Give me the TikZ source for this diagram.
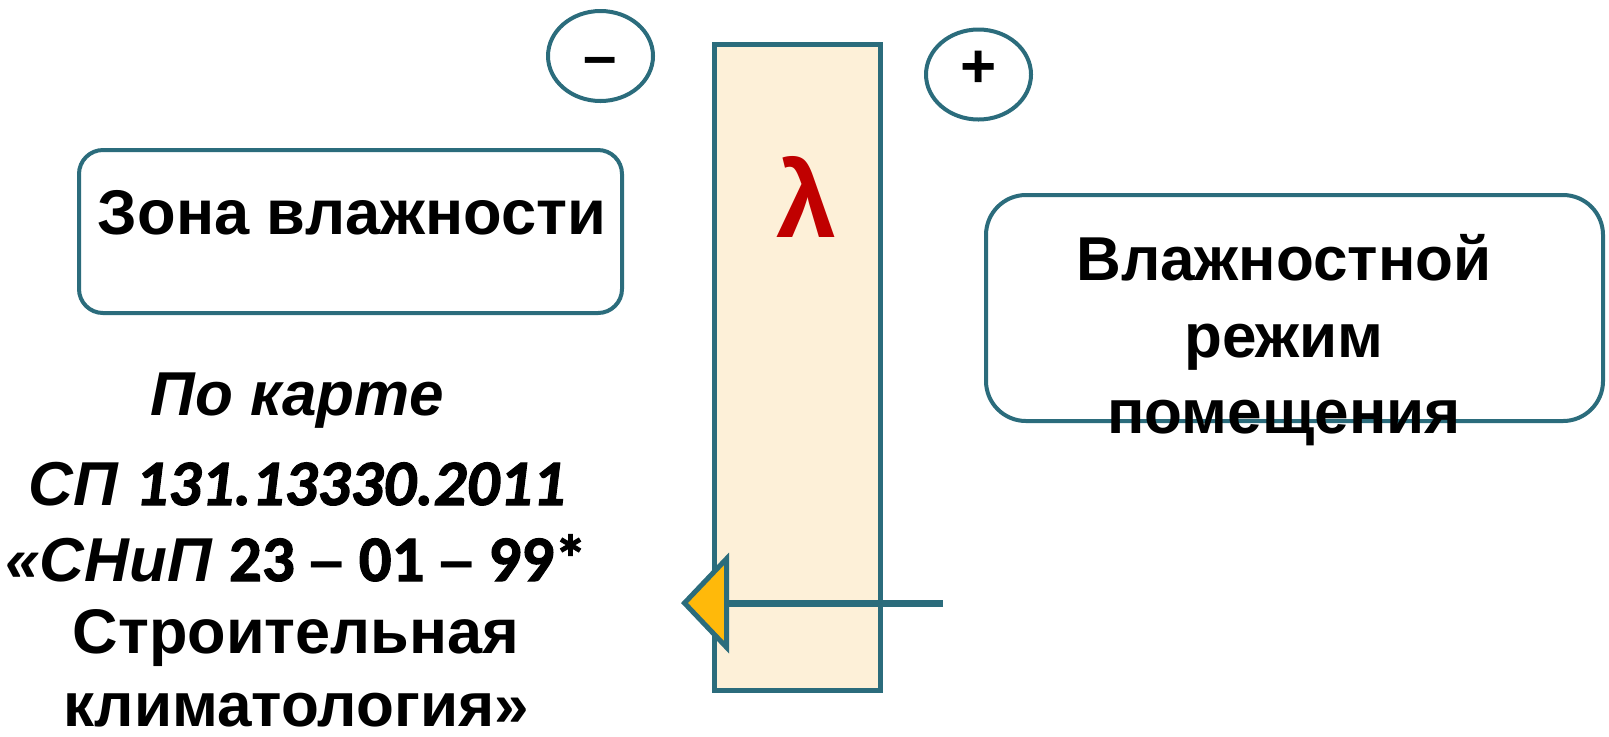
\documentclass[tikz,border=0pt]{standalone}
\usepackage{fontspec}
\setmainfont{Liberation Sans}
\newfontfamily\numbf{Carlito}[UprightFont={Carlito Bold}, ItalicFont={Carlito Bold Italic}, FakeBold=1.6]
\usetikzlibrary{arrows.meta,shapes.geometric}
\definecolor{edge}{RGB}{43,108,124}
\definecolor{wallfill}{RGB}{253,240,216}
\definecolor{tipfill}{RGB}{255,185,10}
\definecolor{lamred}{RGB}{192,0,0}
\newcommand\ndash{{\rmfamily\bfseries\fontsize{31}{38}\selectfont –}}
\begin{document}
\begin{tikzpicture}[x=0.5pt,y=-0.5pt,
  txt/.style={font=\fontsize{31}{38}\selectfont\bfseries, inner sep=0pt, anchor=base},
  sign/.style={draw=edge, line width=2pt, ellipse, inner sep=0pt,
    minimum width=52.5pt, minimum height=45pt},
  panel/.style={draw=edge, line width=2pt, fill=white, inner sep=0pt},
  wallbox/.style={draw=edge, line width=2.5pt, fill=wallfill, inner sep=0pt,
    minimum width=83pt, minimum height=323pt},
]
\useasboundingbox (0,0) rectangle (1609,736);

% wall layer with its conductivity
\node[wallbox] (wall) at (797.5,367.5) {};
\node[font=\fontsize{54}{60}\selectfont\bfseries, text=lamred, inner sep=0pt, anchor=base]
  (lambda) at (807,237) {λ};

% outer and inner side marks
\node[sign, text height=20.4pt, text depth=0pt] (minus) at (600.5,56)
  {\fontsize{30}{38}\selectfont\bfseries –\hspace{4.5pt}};
\node[sign, text height=13.1pt, text depth=0pt] (plus) at (978.5,74.5)
  {\fontsize{31}{38}\selectfont\bfseries +\hspace{4.5pt}};

% humidity zone
\node[panel, rounded corners=12pt, minimum width=271.5pt, minimum height=81.5pt]
  (zone) at (350.5,231.5) {};
\node[txt, font=\fontsize{31.6}{38}\selectfont\bfseries] (zonetxt) at (352,234) {Зона влажности};

% indoor humidity regime
\node[panel, rounded corners=20pt, minimum width=308.5pt, minimum height=113pt]
  (room) at (1294.5,308) {};
\node[txt] (roomA) at (1284,280) {Влажностной};
\node[txt] (roomB) at (1284,357) {режим};
\node[txt] (roomC) at (1284,433) {помещения};

% source of the zone data
\node[txt] (src1) at (297,415) {\itshape По карте};
\node[txt] (src2) at (297,505) {\itshape СП {\numbf\itshape\fontsize{32.5}{38}\selectfont 131.13330.2011}};
\node[txt] (src3) at (296,581) {{\itshape «СНиП} {\numbf\fontsize{32.5}{38}\selectfont 23 \ndash{} 01 \ndash{} 99*}};
\node[txt, font=\fontsize{31.5}{38}\selectfont\bfseries] (src4) at (296,653) {Строительная};
\node[txt] (src5) at (296,726) {климатология»};

% moisture flow through the wall
\coordinate (flowstart) at (943,603);
\coordinate (flowend) at (681,603);
\draw[draw=edge, line width=3.5pt,
  -{Triangle[length=24pt, width=50pt, fill=tipfill, line width=2.5pt]}]
  (flowstart) -- (flowend);
\end{tikzpicture}
\end{document}
